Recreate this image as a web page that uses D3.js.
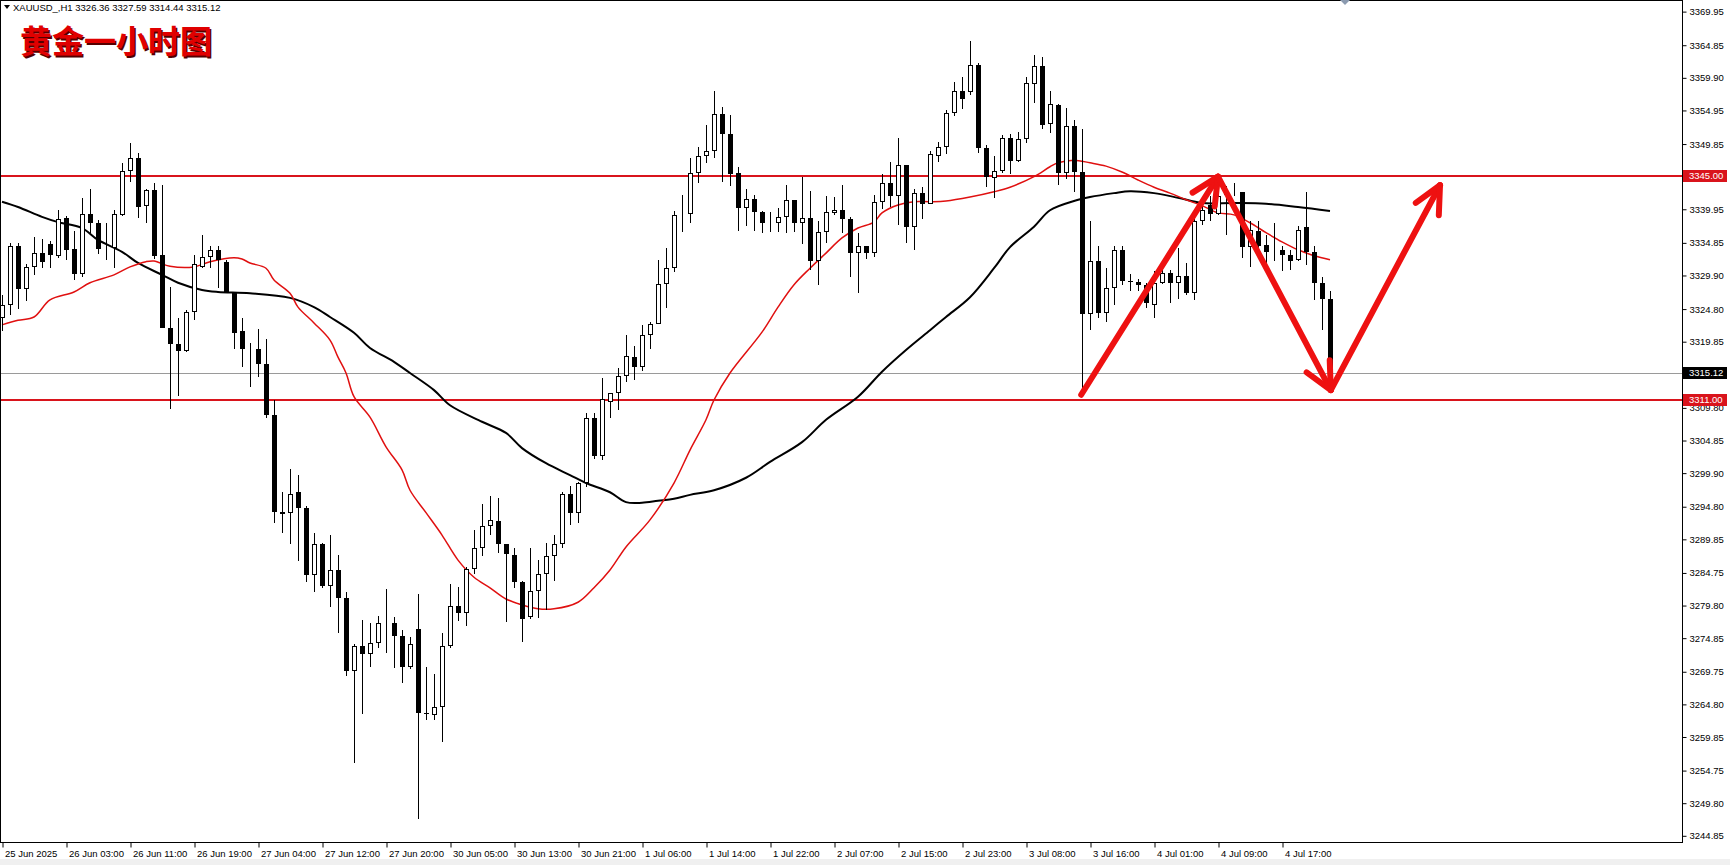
<!DOCTYPE html>
<html><head><meta charset="utf-8">
<script src="https://cdn.jsdelivr.net/npm/d3@7"></script>
<style>html,body{margin:0;padding:0;background:#fff;overflow:hidden}</style>
</head><body><svg id="c" width="1730" height="865"></svg>
<script>
const openP=[3323.4,3325.4,3334.4,3327.8,3331.2,3333.3,3334.7,3332.9,3338.7,3333.9,3330.1,3339.3,3337.8,3333.9,3334.0,3339.1,3345.7,3347.8,3340.4,3342.9,3333.0,3322.0,3319.5,3318.4,3324.4,3331.2,3332.7,3333.8,3332.0,3327.4,3321.4,3318.7,3318.7,3316.4,3308.7,3294.0,3293.8,3297.0,3294.6,3284.4,3289.2,3282.8,3285.2,3280.9,3269.9,3273.7,3272.4,3274.1,3277.1,3277.1,3275.2,3270.4,3276.2,3263.5,3263.2,3264.4,3273.6,3279.8,3278.7,3285.3,3288.5,3291.9,3292.7,3289.1,3287.5,3283.4,3278.0,3282.0,3284.6,3287.3,3289.2,3296.7,3293.8,3298.4,3308.2,3302.5,3310.7,3312.1,3314.6,3317.6,3316.0,3320.9,3322.5,3328.6,3331.0,3339.1,3339.2,3345.4,3348.1,3348.8,3354.4,3351.3,3345.4,3340.2,3341.5,3339.6,3337.8,3337.8,3338.8,3341.4,3337.9,3338.7,3332.1,3336.5,3339.4,3339.8,3338.5,3333.3,3334.4,3333.3,3341.1,3344.0,3341.9,3346.7,3337.3,3342.4,3340.7,3348.1,3349.4,3354.5,3357.9,3357.7,3361.8,3349.2,3344.7,3345.7,3350.7,3347.3,3350.6,3359.0,3361.7,3352.9,3355.8,3345.5,3352.6,3345.6,3324.0,3332.1,3324.2,3328.0,3333.8,3329.0,3328.9,3328.5,3325.4,3328.7,3330.3,3328.8,3329.8,3327.3,3338.1,3340.6,3339.3,3342.1,3342.6,3342.5,3334.2,3336.7,3334.5,3333.6,3333.7,3333.0,3332.2,3337.2,3333.5,3328.8,3326.36];
const highP=[3326.9,3334.9,3334.9,3331.6,3335.8,3335.5,3335.1,3339.9,3338.9,3336.6,3341.6,3343.0,3338.3,3337.9,3339.8,3346.9,3350.0,3348.5,3343.1,3344.0,3343.6,3328.2,3323.4,3324.6,3333.0,3336.0,3334.4,3334.3,3332.2,3327.4,3323.4,3319.7,3321.8,3320.2,3311.0,3297.1,3300.5,3299.6,3294.9,3290.8,3289.3,3290.5,3287.5,3281.9,3274.0,3277.6,3277.1,3278.2,3282.3,3278.0,3276.1,3275.0,3281.5,3270.4,3269.4,3275.7,3283.1,3282.6,3285.7,3291.2,3295.2,3296.4,3296.2,3289.1,3288.5,3283.5,3288.5,3286.7,3289.3,3290.5,3297.1,3297.9,3298.6,3309.1,3309.0,3314.4,3312.1,3315.8,3320.9,3319.2,3322.4,3322.9,3332.2,3334.1,3339.7,3342.1,3347.8,3349.4,3352.7,3357.9,3355.4,3354.3,3346.3,3343.1,3342.1,3339.7,3339.6,3340.1,3343.6,3341.4,3344.9,3342.7,3338.2,3341.9,3341.8,3343.6,3338.8,3336.3,3334.4,3342.1,3345.3,3347.2,3350.7,3346.7,3343.0,3343.4,3348.8,3350.2,3355.0,3359.2,3360.0,3365.5,3362.1,3349.7,3348.0,3351.2,3351.4,3351.7,3360.0,3363.4,3363.0,3357.9,3356.0,3355.3,3353.5,3352.2,3338.1,3334.3,3331.0,3334.4,3334.4,3330.1,3329.3,3328.7,3330.6,3330.8,3330.8,3334.0,3331.8,3338.8,3341.4,3341.9,3343.4,3343.5,3343.9,3342.6,3338.1,3338.1,3336.0,3337.8,3334.4,3333.8,3337.4,3342.5,3334.3,3329.6,3327.59];
const lowP=[3321.4,3323.9,3324.8,3326.1,3330.0,3331.1,3331.1,3332.5,3332.2,3329.2,3329.7,3336.3,3333.2,3332.2,3331.1,3339.0,3344.1,3338.7,3337.9,3332.4,3321.9,3309.7,3311.6,3318.3,3323.1,3331.1,3331.1,3328.0,3327.4,3318.7,3316.0,3313.0,3314.5,3308.2,3292.3,3290.8,3289.2,3286.5,3283.4,3281.9,3282.4,3279.6,3275.7,3269.1,3255.9,3263.4,3270.4,3273.3,3272.6,3270.3,3268.1,3270.1,3247.4,3262.5,3262.5,3259.1,3273.3,3277.5,3276.7,3284.6,3287.3,3290.5,3287.8,3277.3,3282.4,3274.3,3277.7,3277.9,3279.1,3283.6,3288.6,3292.0,3292.4,3297.8,3302.0,3301.9,3308.3,3309.5,3313.8,3314.1,3315.4,3318.7,3322.5,3325.0,3330.5,3336.5,3337.9,3344.0,3346.9,3347.8,3344.1,3343.5,3336.7,3337.4,3336.7,3336.4,3336.5,3336.5,3336.3,3336.5,3334.7,3330.8,3328.5,3334.8,3339.1,3336.4,3329.7,3327.3,3332.4,3332.7,3340.0,3340.3,3337.6,3334.8,3333.8,3338.5,3340.7,3347.2,3348.3,3354.1,3355.2,3357.3,3348.5,3343.4,3341.6,3345.4,3345.3,3347.2,3350.0,3356.1,3352.1,3351.5,3343.6,3344.6,3342.6,3311.8,3321.7,3323.4,3322.9,3325.4,3328.5,3327.6,3327.6,3324.9,3323.4,3328.6,3325.7,3326.4,3326.9,3326.2,3337.6,3338.1,3339.1,3336.0,3341.9,3332.5,3331.2,3334.0,3331.5,3332.1,3330.6,3330.7,3332.1,3331.5,3326.2,3321.6,3314.44];
const closeP=[3325.4,3334.3,3327.8,3331.2,3333.3,3331.9,3333.0,3338.5,3333.8,3330.1,3339.3,3337.8,3333.9,3334.0,3339.2,3345.7,3347.8,3340.3,3342.9,3332.8,3322.0,3319.5,3318.4,3324.4,3331.6,3332.7,3333.8,3332.2,3327.4,3321.2,3318.7,3318.8,3316.4,3308.7,3294.0,3293.7,3296.8,3294.6,3284.4,3289.1,3282.8,3285.2,3280.9,3269.9,3273.7,3272.4,3274.1,3277.1,3277.2,3275.2,3270.4,3273.9,3263.5,3263.4,3264.4,3273.6,3279.8,3278.7,3285.3,3288.5,3291.9,3292.8,3289.1,3287.6,3283.4,3277.7,3282.0,3284.6,3287.3,3289.2,3296.7,3293.8,3298.4,3308.2,3302.5,3311.1,3312.1,3314.6,3317.7,3316.0,3320.9,3322.5,3328.6,3331.0,3339.1,3339.2,3345.4,3348.1,3348.8,3354.4,3351.3,3345.3,3340.2,3341.5,3339.6,3337.8,3337.9,3338.8,3341.4,3337.9,3338.7,3332.1,3336.5,3339.5,3339.8,3338.5,3333.3,3334.4,3333.3,3341.1,3344.0,3341.9,3346.7,3337.3,3342.4,3340.7,3348.3,3349.4,3354.5,3357.9,3356.7,3361.8,3349.2,3344.9,3345.7,3350.7,3347.3,3350.6,3359.1,3361.7,3352.8,3355.9,3345.5,3352.6,3345.6,3324.0,3332.1,3324.2,3328.0,3333.8,3329.0,3328.9,3328.5,3325.7,3328.7,3330.3,3328.8,3329.8,3327.3,3338.1,3339.8,3339.3,3341.9,3342.6,3342.6,3334.2,3336.8,3334.4,3333.5,3333.7,3333.0,3332.1,3336.8,3333.5,3328.8,3326.3,3315.12];

const xTickLabels=["25 Jun 2025","26 Jun 03:00","26 Jun 11:00","26 Jun 19:00","27 Jun 04:00","27 Jun 12:00","27 Jun 20:00","30 Jun 05:00","30 Jun 13:00","30 Jun 21:00","1 Jul 06:00","1 Jul 14:00","1 Jul 22:00","2 Jul 07:00","2 Jul 15:00","2 Jul 23:00","3 Jul 08:00","3 Jul 16:00","4 Jul 01:00","4 Jul 09:00","4 Jul 17:00"];
const xTickIdx=[0,8,16,24,32,40,48,56,64,72,80,88,96,104,112,120,128,136,144,152,160];
const yTickValues=[3369.95,3364.85,3359.90,3354.95,3349.85,3339.95,3334.85,3329.90,3324.80,3319.85,3309.80,3304.85,3299.90,3294.80,3289.85,3284.75,3279.80,3274.85,3269.75,3264.80,3259.85,3254.75,3249.80,3244.85];

const maRedIdx=[0,2,4,6,9,11,14,16,18,19,21,24,26,29,30,31,33,34,36,37,39,41,42,43,44,46,48,50,51,53,55,57,59,61,63,65,67,69,72,74,76,78,81,84,86,88,89,91,95,97,99,101,103,105,107,109,110,112,114,116,118,121,124,126,129,131,132,134,136,138,140,142,144,146,148,150,152,154,156,158,160,162,164,166];
const maRedVal=[3322.4,3323.1,3323.6,3326.2,3327.4,3328.8,3330.0,3331.2,3332.0,3332.1,3331.3,3331.2,3332.0,3332.6,3332.4,3331.8,3331.0,3329.2,3327.2,3325.1,3322.7,3320.1,3317.5,3315.1,3311.5,3308.4,3303.9,3300.4,3297.3,3293.9,3290.5,3286.7,3284.1,3282.5,3280.8,3279.9,3279.3,3279.3,3280.3,3282.5,3285.2,3288.7,3292.8,3298.4,3303.4,3308.0,3311.0,3315.1,3321.3,3325.1,3328.5,3331.0,3333.3,3335.6,3337.1,3338.0,3339.4,3340.6,3341.1,3341.1,3341.2,3341.8,3342.6,3343.3,3344.9,3346.4,3347.0,3347.4,3347.0,3346.5,3345.6,3344.4,3343.3,3342.4,3341.4,3340.5,3339.4,3339.1,3337.9,3336.4,3335.0,3333.8,3332.9,3332.3];
const maBlackIdx=[0,2,5,7,10,12,15,17,20,22,25,27,31,36,39,41,44,46,49,51,54,56,60,63,65,68,71,73,76,78,80,82,84,86,89,93,96,100,103,107,110,113,116,118,121,124,126,129,131,134,136,139,141,144,147,150,154,158,162,166];
const maBlackVal=[3341.1,3340.3,3338.8,3338.0,3337.1,3335.3,3333.5,3331.8,3330.0,3328.8,3327.7,3327.4,3327.2,3326.5,3325.1,3323.6,3321.2,3318.9,3316.8,3315.1,3312.5,3310.2,3307.7,3306.0,3303.7,3301.4,3299.6,3298.4,3297.0,3295.5,3295.4,3295.7,3296.0,3296.6,3297.3,3299.2,3301.6,3304.6,3308.0,3311.5,3315.3,3318.6,3321.6,3323.6,3326.6,3331.0,3334.2,3337.3,3339.8,3341.2,3341.8,3342.4,3342.7,3342.4,3341.7,3340.9,3340.9,3340.8,3340.3,3339.7];

const levelLines=[3345.00,3311.00];
const bidPrice=3315.12;
const arrowIdx=[134.9,152,166.1,179.75];
const arrowVal=[3311.8,3344.9,3312.5,3343.6];
const headerText="XAUUSD_,H1  3326.36 3327.59 3314.44 3315.12";
const titleText="黄金一小时图";

const W=1730,H=865, plotR=1682, plotB=842;
const svg=d3.select("#c");
const x=d3.scaleLinear().domain([0,166]).range([2,1330]);
const y=d3.scaleLinear().domain([3311,3345]).range([400,176]);
const RED="#d9141c";

svg.append("rect").attr("x",0).attr("y",0).attr("width",W).attr("height",H).attr("fill","#fff");
svg.append("rect").attr("x",0).attr("y",859).attr("width",W).attr("height",6).attr("fill","#f0f0f0");
svg.append("defs").append("clipPath").attr("id","plot").append("rect").attr("x",1).attr("y",1).attr("width",plotR-1).attr("height",plotB-1);
const g=svg.append("g").attr("clip-path","url(#plot)");

// bid line
g.append("line").attr("x1",0).attr("x2",plotR).attr("y1",Math.round(y(bidPrice))+0.5).attr("y2",Math.round(y(bidPrice))+0.5).attr("stroke","#9a9a9a").attr("stroke-width",1);
// levels
g.selectAll("line.lvl").data(levelLines).enter().append("line").attr("class","lvl")
 .attr("x1",0).attr("x2",plotR).attr("y1",d=>Math.round(y(d))).attr("y2",d=>Math.round(y(d)))
 .attr("stroke",RED).attr("stroke-width",2);

// MA lines
const lineGen=d3.line().x(d=>x(d[0])).y(d=>y(d[1])).curve(d3.curveCatmullRom);
g.append("path").datum(maBlackIdx.map((d,i)=>[d,maBlackVal[i]])).attr("d",lineGen).attr("fill","none").attr("stroke","#000").attr("stroke-width",2);
g.append("path").datum(maRedIdx.map((d,i)=>[d,maRedVal[i]])).attr("d",lineGen).attr("fill","none").attr("stroke","#e01010").attr("stroke-width",1.5);

// candles
const candles=openP.map((o,i)=>({i,o,h:highP[i],l:lowP[i],c:closeP[i]}));
const cg=g.append("g");
cg.selectAll("rect.wick").data(candles).enter().append("rect").attr("class","wick")
 .attr("x",d=>Math.round(x(d.i))).attr("width",1)
 .attr("y",d=>Math.round(y(d.h))).attr("height",d=>Math.max(1,Math.round(y(d.l))-Math.round(y(d.h))))
 .attr("fill","#000");
cg.selectAll("rect.body").data(candles).enter().append("rect").attr("class","body")
 .each(function(d){
   const cx=Math.round(x(d.i));
   const t=Math.round(y(Math.max(d.o,d.c))), b=Math.round(y(Math.min(d.o,d.c)));
   const s=d3.select(this);
   if(d.c>=d.o){
     s.attr("x",cx-1.5).attr("width",4).attr("y",t+0.5).attr("height",Math.max(0,b-t-1)).attr("fill","#fff").attr("stroke","#000").attr("stroke-width",1);
   } else {
     s.attr("x",cx-2).attr("width",5).attr("y",t).attr("height",Math.max(1,b-t)).attr("fill","#000");
   }
 });

// arrows
const ag=svg.append("g");
for(let k=0;k<arrowIdx.length-1;k++){
  const x0=x(arrowIdx[k]),y0=y(arrowVal[k]),x1=x(arrowIdx[k+1]),y1=y(arrowVal[k+1]);
  ag.append("line").attr("x1",x0).attr("y1",y0).attr("x2",x1).attr("y2",y1)
   .attr("stroke","#ee1111").attr("stroke-width",6).attr("stroke-linecap","round");
  const ang=Math.atan2(y0-y1,x0-x1), L=30, a=0.45;
  [ang+a,ang-a].forEach(t=>{
    ag.append("line").attr("x1",x1).attr("y1",y1).attr("x2",x1+L*Math.cos(t)).attr("y2",y1+L*Math.sin(t))
     .attr("stroke","#ee1111").attr("stroke-width",6).attr("stroke-linecap","round");
  });
}

// frame
svg.append("rect").attr("x",0.5).attr("y",0.5).attr("width",plotR).attr("height",plotB).attr("fill","none").attr("stroke","#000").attr("stroke-width",1);

// y axis
const yAxis=d3.axisRight(y).tickValues(yTickValues).tickSize(4).tickPadding(3).tickFormat(d3.format(".2f"));
const ya=svg.append("g").attr("transform",`translate(${plotR+0.5},0)`).call(yAxis);
ya.select(".domain").remove();
ya.selectAll("text").attr("font-family","Liberation Sans, Arial, sans-serif").attr("font-size","9.5px").attr("fill","#000");

// x axis
const xAxis=d3.axisBottom(x).tickValues(xTickIdx).tickSize(5).tickFormat((d,i)=>xTickLabels[i]);
const xa=svg.append("g").attr("transform",`translate(0.5,${plotB+0.5})`).call(xAxis);
xa.select(".domain").remove();
xa.selectAll("text").attr("text-anchor","start").attr("x",2).attr("y",8).attr("dy","0.71em")
 .attr("font-family","Liberation Sans, Arial, sans-serif").attr("font-size","9.5px").attr("fill","#000");

// price labels
const labels=[{v:3345.00,bg:RED},{v:3311.00,bg:RED},{v:bidPrice,bg:"#000"}];
labels.forEach(d=>{
  const yy=Math.round(y(d.v));
  svg.append("rect").attr("x",plotR+1).attr("y",yy-6).attr("width",44).attr("height",12).attr("fill",d.bg);
  svg.append("text").attr("x",plotR+7).attr("y",yy).attr("dy","0.35em").text(d3.format(".2f")(d.v))
   .attr("font-family","Liberation Sans, Arial, sans-serif").attr("font-size","9.5px").attr("fill","#fff");
});

// header
svg.append("path").attr("d","M4,5 L10,5 L7,9 Z").attr("fill","#000");
svg.append("text").attr("x",13).attr("y",8).attr("dy","0.35em").text(headerText)
 .attr("font-family","Liberation Sans, Arial, sans-serif").attr("font-size","9.5px").attr("fill","#000");
// shift marker
svg.append("path").attr("d","M1340,0 L1350,0 L1345,5 Z").attr("fill","#8c9bb0");

// title
svg.append("text").attr("x",21.5).attr("y",54.5).text(titleText)
 .attr("font-family","Noto Sans CJK SC").attr("font-weight",700).attr("font-size","32px").attr("fill","#500");
svg.append("text").attr("x",20).attr("y",53).text(titleText)
 .attr("font-family","Noto Sans CJK SC").attr("font-weight",700).attr("font-size","32px").attr("fill","#e00000");
</script></body></html>
